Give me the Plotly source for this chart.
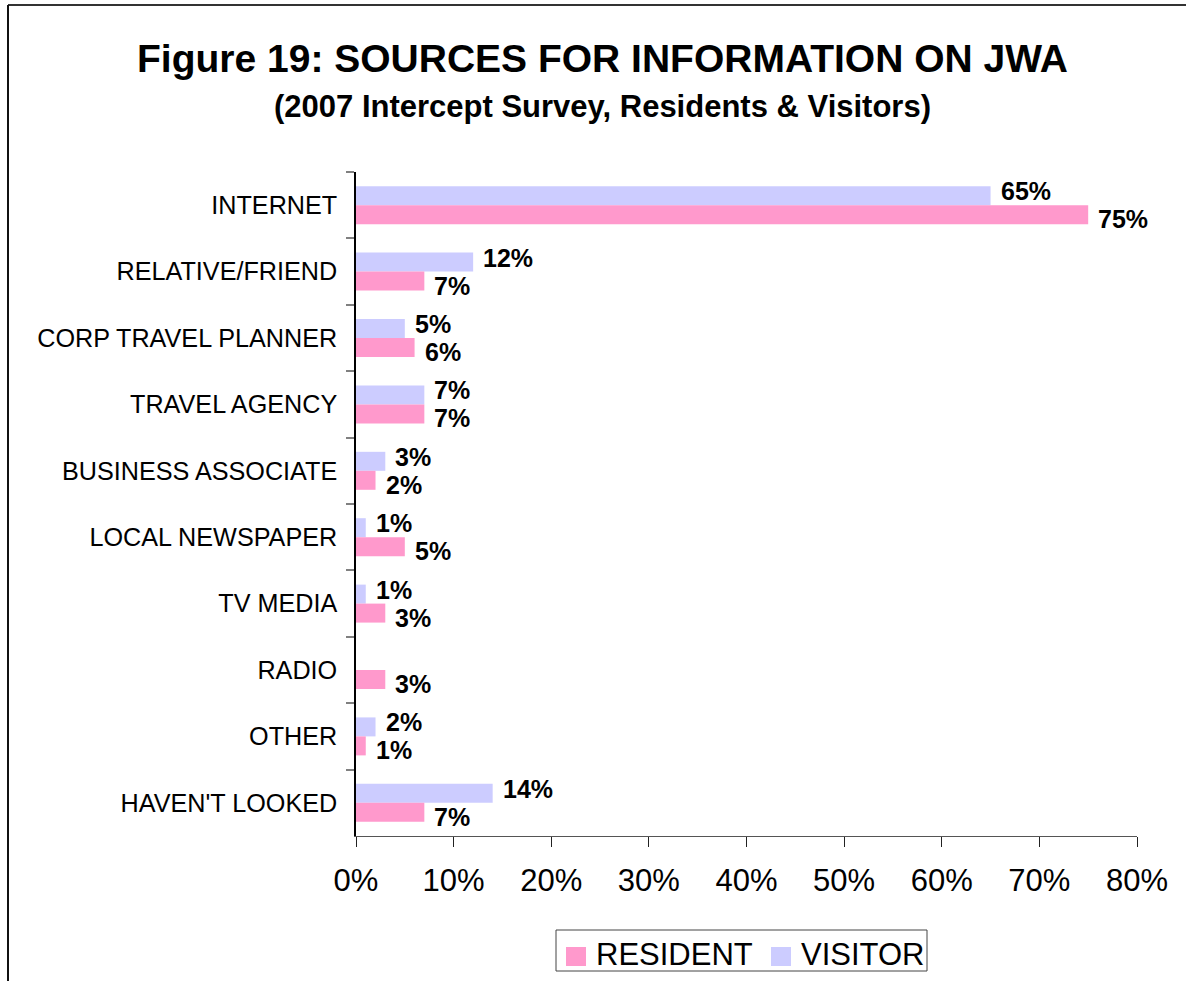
import plotly.graph_objects as go

# Survey results (percent of respondents)
categories = [
    "INTERNET", "RELATIVE/FRIEND", "CORP TRAVEL PLANNER", "TRAVEL AGENCY",
    "BUSINESS ASSOCIATE", "LOCAL NEWSPAPER", "TV MEDIA", "RADIO", "OTHER",
    "HAVEN'T LOOKED",
]
visitor = [65, 12, 5, 7, 3, 1, 1, 0, 2, 14]
resident = [75, 7, 6, 7, 2, 5, 3, 3, 1, 7]
x_ticks = [0, 10, 20, 30, 40, 50, 60, 70, 80]

PINK = "#FF99CC"
LAVENDER = "#CCCCFF"
FONT = "Liberation Sans, Arial, sans-serif"

W, H = 1186, 981
L, R, T, B = 356, 49, 172, 145
PW, PH = W - L - R, H - T - B


def px_x(px):
    return (px - L) / PW


def px_y(py):
    return (H - B - py) / PH


fig = go.Figure()
fig.add_trace(go.Bar(y=categories, x=visitor, orientation="h", name="VISITOR",
                     marker=dict(color=LAVENDER, line=dict(width=0)),
                     showlegend=False, hoverinfo="x+y"))
fig.add_trace(go.Bar(y=categories, x=resident, orientation="h", name="RESIDENT",
                     marker=dict(color=PINK, line=dict(width=0)),
                     showlegend=False, hoverinfo="x+y"))

annotations = []
label_font = dict(family=FONT, size=25, color="black", weight="bold")
# Value labels next to each bar
for cat, v in zip(categories, visitor):
    if v > 0:
        annotations.append(dict(x=v, y=cat, xref="x", yref="y", text=f"{v}%",
                                showarrow=False, xanchor="left", yanchor="middle",
                                xshift=8, yshift=14, font=label_font))
for cat, v in zip(categories, resident):
    if v > 0:
        annotations.append(dict(x=v, y=cat, xref="x", yref="y", text=f"{v}%",
                                showarrow=False, xanchor="left", yanchor="middle",
                                xshift=8, yshift=-14, font=label_font))

# Titles
annotations.append(dict(x=px_x(602), y=px_y(58), xref="paper", yref="paper",
                        text="<b>Figure 19: SOURCES FOR INFORMATION ON JWA</b>",
                        showarrow=False, xanchor="center", yanchor="middle",
                        font=dict(family=FONT, size=39, color="black")))
annotations.append(dict(x=px_x(602), y=px_y(106), xref="paper", yref="paper",
                        text="<b>(2007 Intercept Survey, Residents & Visitors)</b>",
                        showarrow=False, xanchor="center", yanchor="middle",
                        font=dict(family=FONT, size=31, color="black")))

# Legend text
for label, left in (("RESIDENT", 594), ("VISITOR", 799)):
    annotations.append(dict(x=px_x(left), y=px_y(954), xref="paper", yref="paper",
                            text=label, showarrow=False, xanchor="left", yanchor="middle",
                            font=dict(family=FONT, size=31, color="black")))

shapes = [
    # outer frame (top and left edges)
    dict(type="line", xref="paper", yref="paper", x0=px_x(8), x1=px_x(1192),
         y0=px_y(5), y1=px_y(5), line=dict(color="#333333", width=2)),
    dict(type="line", xref="paper", yref="paper", x0=px_x(8), x1=px_x(8),
         y0=px_y(5), y1=px_y(990), line=dict(color="#111111", width=2)),
    # legend box and swatches
    dict(type="rect", xref="paper", yref="paper", x0=px_x(556), x1=px_x(927),
         y0=px_y(930), y1=px_y(971), line=dict(color="#444444", width=1),
         fillcolor="white"),
    dict(type="rect", xref="paper", yref="paper", x0=px_x(566), x1=px_x(586),
         y0=px_y(947), y1=px_y(966), line=dict(width=0), fillcolor=PINK),
    dict(type="rect", xref="paper", yref="paper", x0=px_x(771), x1=px_x(791),
         y0=px_y(947), y1=px_y(966), line=dict(width=0), fillcolor=LAVENDER),
]

fig.update_layout(
    width=W, height=H,
    margin=dict(l=L, r=R, t=T, b=B, pad=0),
    paper_bgcolor="white", plot_bgcolor="white",
    barmode="group", bargap=0.428, bargroupgap=0,
    showlegend=False,
    annotations=annotations, shapes=shapes,
    xaxis=dict(range=[0, 80], tickvals=x_ticks, ticktext=[f"{t}%" for t in x_ticks],
               showgrid=False, zeroline=False, showline=True, linecolor="#555555",
               linewidth=1, ticks="outside", ticklen=10, tickcolor="#222222",
               tickwidth=1, ticklabelstandoff=7,
               tickfont=dict(family=FONT, size=31, color="black"),
               fixedrange=True),
    yaxis=dict(autorange="reversed", showgrid=False, zeroline=False, showline=True,
               linecolor="black", linewidth=1.5, ticks="outside", tickson="boundaries",
               ticklen=8, tickcolor="#808080", tickwidth=2,
               ticklabelstandoff=12,
               tickfont=dict(family=FONT, size=25.2, color="black"),
               fixedrange=True),
)

fig.write_html("out.html")
